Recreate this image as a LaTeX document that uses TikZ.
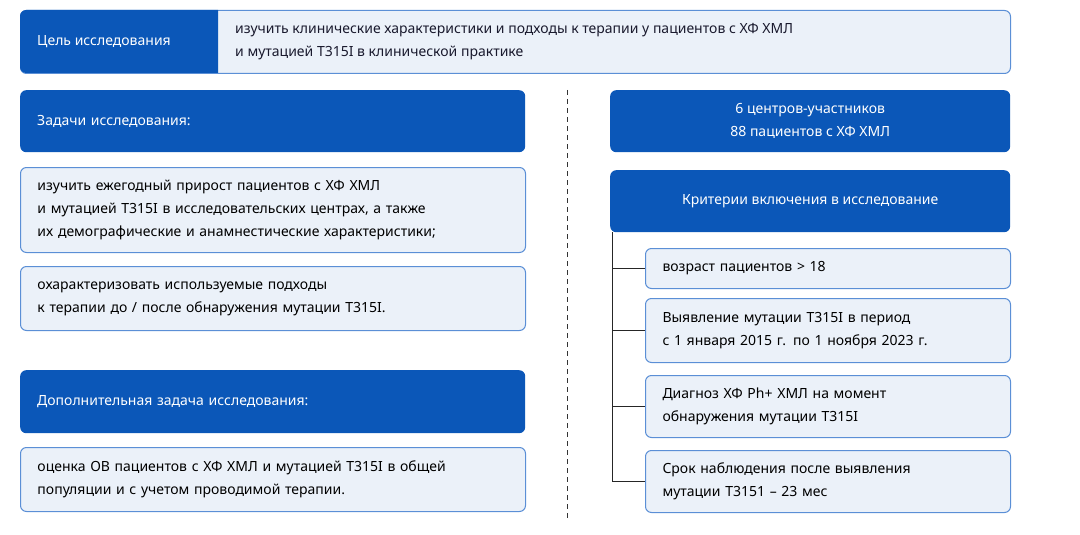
\documentclass[tikz,border=0pt]{standalone}
\usepackage{fontspec}
\setmainfont{Noto Sans}
\begin{document}
\begin{tikzpicture}[x=1pt,y=-1pt,
    dark/.style={fill=darkblue,rounded corners=6pt,text=white,font=\bfseries\fontsize{14}{23}\selectfont},
    light/.style={fill=lightfill,draw=lightline,line width=1pt,rounded corners=6pt,font=\fontsize{14}{23}\selectfont},
    box/.style={anchor=north west,align=left,inner xsep=17pt,inner ysep=0pt},
    branch/.style={draw=black!85,line width=0.9pt}]
    \definecolor{darkblue}{HTML}{0B57B8}
    \definecolor{lightfill}{HTML}{EBF1F9}
    \definecolor{lightline}{HTML}{5B8FD6}
    \definecolor{darktext}{HTML}{1A1A2E}
    \useasboundingbox (0,0) rectangle (1080,535);

    % goal
    \node[light,box,minimum width=990pt,minimum height=63pt] (goalbox) at (20,10) {};
    \fill[darkblue] (218,10) [sharp corners]-- (218,73) [rounded corners=6pt]-- (20,73) -- (20,10) [sharp corners]-- cycle;
    \node[anchor=west,text=white,font=\bfseries\fontsize{14}{23}\selectfont,inner sep=0pt] (goal) at (37,41.5) {Цель исследования};
    \node[anchor=west,align=left,font=\bfseries\fontsize{14}{23}\selectfont,text=darktext,inner sep=0pt] (goaltext) at (235,41.5)
        {изучить клинические характеристики и подходы к терапии у пациентов с ХФ ХМЛ\\и мутацией T315I в клинической практике};

    % left column
    \node[dark,box,minimum width=505pt,minimum height=62pt,text width=471pt] (tasks) at (20,90) {Задачи исследования:};
    \node[light,box,minimum width=505pt,minimum height=85pt,text width=471pt] (task1) at (20,167)
        {изучить ежегодный прирост пациентов с ХФ ХМЛ\\и мутацией T315I в исследовательских центрах, а также\\их демографические и анамнестические характеристики;};
    \node[light,box,minimum width=505pt,minimum height=64pt,text width=471pt] (task2) at (20,266)
        {охарактеризовать используемые подходы\\к терапии до / после обнаружения мутации T315I.};
    \node[dark,box,minimum width=505pt,minimum height=63pt,text width=471pt] (extra) at (20,370) {Дополнительная задача исследования:};
    \node[light,box,minimum width=505pt,minimum height=64pt,text width=471pt] (task3) at (20,447)
        {оценка ОВ пациентов с ХФ ХМЛ и мутацией T315I в общей\\популяции и с учетом проводимой терапии.};

    % divider
    \draw[black!80,line width=1pt,dash pattern=on 5pt off 4pt] (567,90) -- (567,518);

    % right column
    \node[dark,anchor=north west,align=center,minimum width=400pt,minimum height=62pt] (centers) at (610,90)
        {6 центров-участников\\88 пациентов с ХФ ХМЛ};
    \node[dark,anchor=north west,align=center,minimum width=400pt,minimum height=62pt] (crit) at (610,170)
        {Критерии включения в исследование};
    \node[light,box,minimum width=365pt,minimum height=40pt,text width=331pt,inner xsep=16pt] (c1) at (645,248)
        {возраст пациентов > 18};
    \node[light,box,minimum width=365pt,minimum height=64pt,text width=331pt,inner xsep=16pt] (c2) at (645,298)
        {Выявление мутации T315I в период\\с 1 января 2015 г. по 1 ноября 2023 г.};
    \node[light,box,minimum width=365pt,minimum height=62pt,text width=331pt,inner xsep=16pt] (c3) at (645,375)
        {Диагноз ХФ Ph+ ХМЛ на момент\\обнаружения мутации T315I};
    \node[light,box,minimum width=365pt,minimum height=62pt,text width=331pt,inner xsep=16pt] (c4) at (645,450)
        {Срок наблюдения после выявления\\мутации T3151 – 23 мес};

    \coordinate (trunk) at ([xshift=2pt]crit.south west);
    \draw[branch] (trunk) |- (c4.west);
    \foreach \c in {c1,c2,c3}
        \draw[branch] (trunk |- \c.west) -- (\c.west);
\end{tikzpicture}
\end{document}
